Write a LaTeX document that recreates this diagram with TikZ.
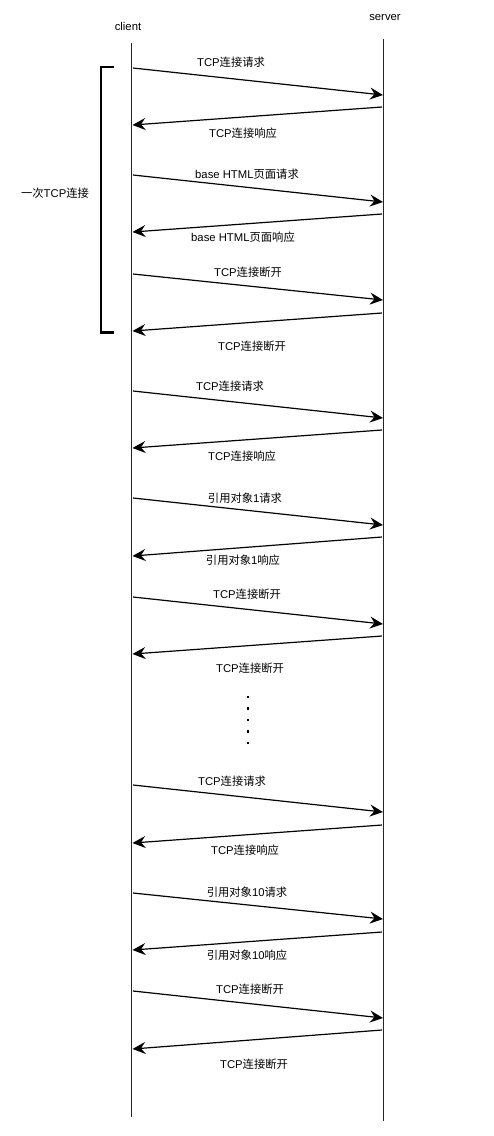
\documentclass[tikz,border=0pt]{standalone}
\usepackage{fontspec}
\setmainfont{Liberation Sans}
\newfontfamily\cjk{Noto Sans CJK SC}
\usetikzlibrary{arrows.meta}
\tikzset{
  lifeline/.style={line width=1.3pt, draw=black!85},
  msg/.style={line width=1.2pt, -{Stealth[length=13pt, width=12pt, inset=4.5pt]}},
  lbl/.style={font=\fontsize{11.3}{13}\selectfont, inner sep=1pt},
}
\begin{document}
\begin{tikzpicture}[x=1pt, y=-1pt]
        \useasboundingbox (0,0) rectangle (494,1136);
        % Lifelines
        \node[lbl] (client) at (128,26) {client};
        \node[lbl] (server) at (385,18) {server};
        \coordinate (ctop) at (131.5,43);
        \coordinate (cbot) at (131.5,1117);
        \coordinate (stop) at (383.5,39);
        \coordinate (sbot) at (383.5,1121);
        \draw[lifeline] (ctop) -- (cbot);
        \draw[lifeline] (stop) -- (sbot);

        % Requests: client -> server
        \foreach \ya/\yb/\txt/\lx/\ly [count=\i] in
          {68/95/{TCP{\cjk 连接请求}}/231/62,
           175/202/{base HTML{\cjk 页面请求}}/247/174,
           274/300/{TCP{\cjk 连接断开}}/248/272,
           391/418/{TCP{\cjk 连接请求}}/230/386,
           498/525/{{\cjk 引用对象}1{\cjk 请求}}/245/498,
           597/624/{TCP{\cjk 连接断开}}/247/594,
           785/812/{TCP{\cjk 连接请求}}/232/781,
           893/919/{{\cjk 引用对象}10{\cjk 请求}}/247/892,
           991/1018/{TCP{\cjk 连接断开}}/250/989}
        {
          \coordinate (req\i a) at (133,\ya);
          \coordinate (req\i b) at (383,\yb);
          \draw[msg] (req\i a) -- (req\i b);
          \node[lbl] (reqlbl\i) at (\lx,\ly) {\txt};
        }

        % Responses: server -> client
        \foreach \ya/\yb/\txt/\lx/\ly [count=\i] in
          {107/125/{TCP{\cjk 连接响应}}/243/133,
           214/232/{base HTML{\cjk 页面响应}}/243/237,
           313/331/{TCP{\cjk 连接断开}}/252/346,
           430/448/{TCP{\cjk 连接响应}}/242/456,
           537/556/{{\cjk 引用对象}1{\cjk 响应}}/243/560,
           636/654/{TCP{\cjk 连接断开}}/250/668,
           825/843/{TCP{\cjk 连接响应}}/245/850,
           932/950/{{\cjk 引用对象}10{\cjk 响应}}/247/955,
           1030/1049/{TCP{\cjk 连接断开}}/254/1064}
        {
          \coordinate (resp\i a) at (382,\ya);
          \coordinate (resp\i b) at (132.5,\yb);
          \draw[msg] (resp\i a) -- (resp\i b);
          \node[lbl] (resplbl\i) at (\lx,\ly) {\txt};
        }

        % Bracket for one connection
        \coordinate (brtop) at (114,67);
        \coordinate (brbot) at (114,332.5);
        \draw[line width=2.5pt] (brtop) -- (101,67) -- (101,332.5) -- (brbot);
        \node[lbl] (once) at (55,193) {{\cjk 一次}TCP{\cjk 连接}};

        % Dots
        \foreach \y in {697,708.5,720,731.5,743}
        {
          \fill (246.8,\y-1.4) rectangle (249.2,\y+1.4);
        }
    \end{tikzpicture}
\end{document}
